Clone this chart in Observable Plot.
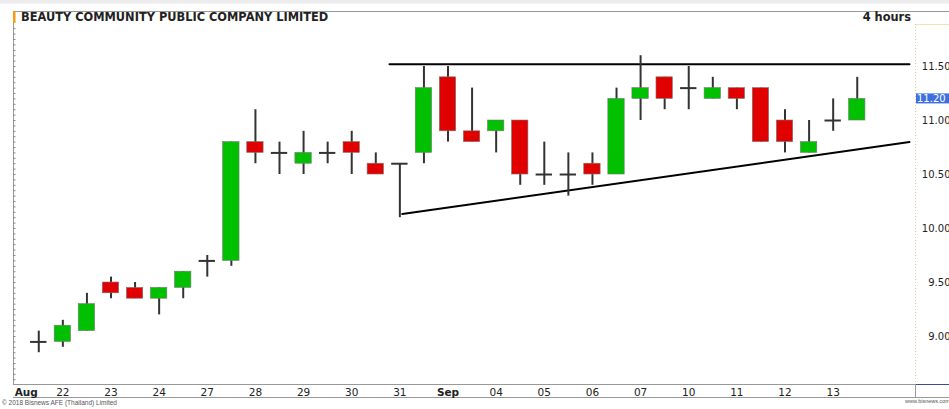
<!DOCTYPE html>
<html><head><meta charset="utf-8">
<script src="https://cdn.jsdelivr.net/npm/d3@7"></script>
<script src="https://cdn.jsdelivr.net/npm/@observablehq/plot@0.6"></script>
<style>
html,body{margin:0;padding:0;background:#fff;}
#chart{position:relative;width:949px;height:409px;overflow:hidden;}
</style></head><body><div id="chart"></div>
<script>
const title = "BEAUTY COMMUNITY PUBLIC COMPANY LIMITED";
const interval = "4 hours";
const copyright = "\u00a9 2018 Bisnews AFE (Thailand) Limited";
const website = "www.bisnews.com";

// 4-hour candles, Aug 21 (pm) .. Sep 13 (pm)
const open  = [8.95, 8.95, 9.05, 9.50, 9.45, 9.35, 9.45, 9.70, 9.70, 10.80, 10.70, 10.60, 10.70, 10.80, 10.60, 10.60, 10.70, 11.40, 10.90, 10.90, 11.00, 10.50, 10.50, 10.60, 10.50, 11.20, 11.40, 11.30, 11.20, 11.30, 11.30, 11.00, 10.70, 11.00, 11.00];
const high  = [9.05, 9.15, 9.40, 9.55, 9.50, 9.45, 9.60, 9.75, 10.80, 11.10, 10.80, 10.90, 10.80, 10.90, 10.70, 10.60, 11.50, 11.50, 11.30, 11.00, 11.00, 10.80, 10.70, 10.70, 11.30, 11.60, 11.40, 11.50, 11.40, 11.30, 11.30, 11.10, 11.00, 11.20, 11.40];
const low   = [8.85, 8.90, 9.05, 9.35, 9.35, 9.20, 9.35, 9.55, 9.65, 10.60, 10.50, 10.50, 10.60, 10.50, 10.50, 10.10, 10.60, 10.80, 10.80, 10.70, 10.40, 10.40, 10.30, 10.40, 10.50, 11.00, 11.10, 11.10, 11.20, 11.10, 10.80, 10.70, 10.70, 10.90, 11.00];
const close = [8.95, 9.10, 9.30, 9.40, 9.35, 9.45, 9.60, 9.70, 10.80, 10.70, 10.70, 10.70, 10.70, 10.70, 10.50, 10.60, 11.30, 10.90, 10.80, 11.00, 10.50, 10.50, 10.50, 10.50, 11.20, 11.30, 11.20, 11.30, 11.30, 11.20, 10.80, 10.80, 10.80, 11.00, 11.20];

const dayLabels  = ["22","23","24","27","28","29","30","31","04","05","06","07","10","11","12","13"];
const dayTickIdx = [1, 3, 5, 7, 9, 11, 13, 15, 19, 21, 23, 25, 27, 29, 31, 33];
const monthLabels = ["Aug", "Sep"];
const monthIdx    = [-1, 17];
const yTicks = [9.0, 9.5, 10.0, 10.5, 11.0, 11.5];

// trend lines (candle index, price)
const resistanceIdx = [14.57, 36.17];
const resistanceVal = [11.52, 11.52];
const supportIdx = [15.1, 36.17];
const supportVal = [10.135, 10.80];

const lastPrice = 11.20;

const green = "#00c000", red = "#e00000", wick = "#333";

const candles = open.map((o, i) => ({i, o, h: high[i], l: low[i], c: close[i]}));
const bodies = candles.filter(d => d.o !== d.c);
const dojis = candles.filter(d => d.o === d.c);
const dayMap = new Map(dayTickIdx.map((d, k) => [d, dayLabels[k]]));
const months = monthLabels.map((label, k) => ({label, i: monthIdx[k]}));
const resistance = resistanceIdx.map((i, k) => ({i, v: resistanceVal[k]}));
const support = supportIdx.map((i, k) => ({i, v: supportVal[k]}));
const half = 0.34;

const plot = Plot.plot({
  width: 949, height: 409,
  marginTop: 24, marginBottom: 26, marginLeft: 13, marginRight: 34,
  x: {domain: [-1.05, 36.42], axis: null, label: null},
  y: {domain: [8.565, 11.889], axis: null, label: null},
  style: {fontFamily: "'DejaVu Sans'", color: "#222", background: "transparent", overflow: "visible"},
  marks: [
    Plot.axisY(d3.range(8.6, 11.89, 0.05), {anchor: "left", label: null, tickSize: 2.5, tickFormat: () => "", stroke: "#888", dx: 2.5}),
    Plot.axisY(yTicks, {anchor: "right", label: null, tickSize: 0, tickPadding: 0, dx: 35, textAnchor: "end",
      tickFormat: d => d.toFixed(2), fontSize: 10, fill: "#222"}),
    Plot.axisX(dayTickIdx, {anchor: "bottom", label: null, tickSize: 0, tickPadding: 5, tickFormat: d => dayMap.get(d), fontSize: 10.5, fill: "#222"}),
    Plot.text(months.filter(d => d.i < 0), {x: "i", text: "label", frameAnchor: "bottom", lineAnchor: "top", dy: 5, textAnchor: "start", fontWeight: "bold", fontSize: 10.5, fill: "#222"}),
    Plot.text(months.filter(d => d.i >= 0), {x: "i", text: "label", frameAnchor: "bottom", lineAnchor: "top", dy: 5, textAnchor: "middle", fontWeight: "bold", fontSize: 10.5, fill: "#222"}),
    Plot.line(resistance, {x: "i", y: "v", stroke: "#000", strokeWidth: 2}),
    Plot.line(support, {x: "i", y: "v", stroke: "#000", strokeWidth: 2}),
    Plot.ruleX(candles, {x: "i", y1: "l", y2: "h", stroke: wick, strokeWidth: 2}),
    Plot.rect(bodies, {x1: d => d.i - half, x2: d => d.i + half, y1: "o", y2: "c",
      fill: d => d.c > d.o ? green : red, stroke: "#777", strokeWidth: 0.6}),
    Plot.ruleY(dojis, {y: "o", x1: d => d.i - half, x2: d => d.i + half, stroke: wick, strokeWidth: 2})
  ]
});

const svg = d3.select(plot);
const ys = plot.scale("y");
const W = 949, L = 13, R = 915, T = 11, B = 384, B2 = 397;
const deco = svg.insert("g", ":first-child");
deco.append("rect").attr("x", 0).attr("y", 0).attr("width", W).attr("height", 3.5).attr("fill", "#ececec");
deco.append("line").attr("x1", L).attr("x2", W).attr("y1", T + 0.5).attr("y2", T + 0.5).attr("stroke", "#999");
deco.append("line").attr("x1", L + 0.5).attr("x2", L + 0.5).attr("y1", T).attr("y2", B).attr("stroke", "#999");
deco.append("rect").attr("x", L).attr("y", T).attr("width", 2.5).attr("height", 12).attr("fill", "#f39c12");
deco.append("line").attr("x1", R).attr("x2", W).attr("y1", 24.5).attr("y2", 24.5).attr("stroke", "#f3e2b0");
deco.append("line").attr("x1", R + 0.5).attr("x2", R + 0.5).attr("y1", 24).attr("y2", B).attr("stroke", "#e6cf8c").attr("stroke-dasharray", "1,2");
deco.append("line").attr("x1", L).attr("x2", R).attr("y1", B + 0.5).attr("y2", B + 0.5).attr("stroke", "#999");
deco.append("line").attr("x1", R).attr("x2", W).attr("y1", B + 0.5).attr("y2", B + 0.5).attr("stroke", "#3a4a9a");
deco.append("line").attr("x1", L).attr("x2", W).attr("y1", B2 + 0.5).attr("y2", B2 + 0.5).attr("stroke", "#999");
deco.append("line").attr("x1", R + 0.5).attr("x2", R + 0.5).attr("y1", B).attr("y2", B2).attr("stroke", "#999");

const over = svg.append("g").attr("text-anchor", "start");
over.append("text").attr("x", 21).attr("y", 21).attr("text-anchor", "start").attr("font-family", "'DejaVu Sans'").attr("font-weight", "bold")
  .attr("font-size", 11.4).attr("fill", "#222").text(title);
over.append("text").attr("x", 911).attr("y", 21).attr("text-anchor", "end").attr("font-family", "'DejaVu Sans'").attr("font-weight", "bold")
  .attr("font-size", 11.4).attr("fill", "#222").text(interval);
const yt = ys.apply(lastPrice);
over.append("rect").attr("x", R + 1).attr("y", yt - 5).attr("width", W - R).attr("height", 10).attr("fill", "#3d6fe0");
over.append("text").attr("x", R + 2).attr("y", yt + 3.6).attr("text-anchor", "start").attr("font-family", "'DejaVu Sans'").attr("font-size", 10)
  .attr("fill", "#fff").text(lastPrice.toFixed(2));
over.append("text").attr("x", 2).attr("y", 405).attr("text-anchor", "start").attr("font-family", "'Liberation Sans'").attr("font-size", 6.5)
  .attr("fill", "#555").text(copyright);
over.append("text").attr("x", 905).attr("y", 403).attr("text-anchor", "start").attr("font-family", "'Liberation Sans'").attr("font-size", 5.5)
  .attr("fill", "#555").text(website);

document.getElementById("chart").appendChild(plot);
</script></body></html>
